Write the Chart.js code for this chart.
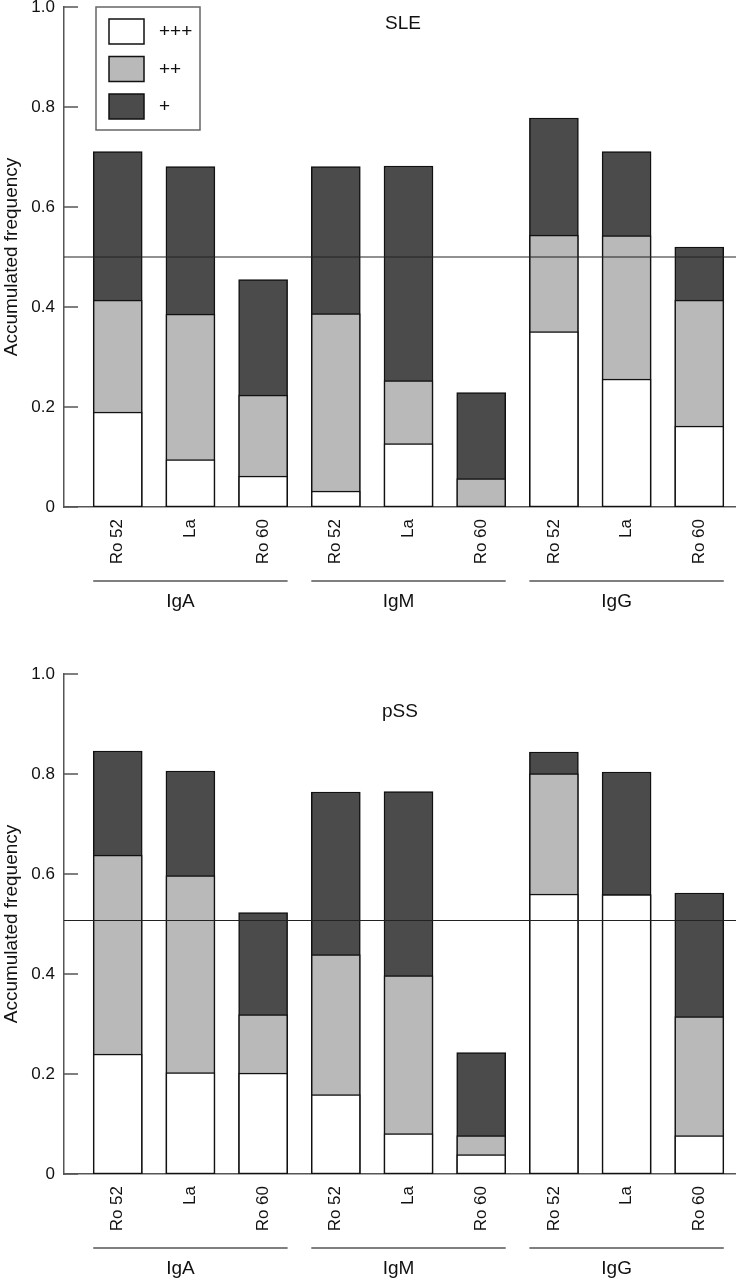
<!DOCTYPE html>
<html>
<head>
<meta charset="utf-8">
<script src="https://cdn.jsdelivr.net/npm/chart.js@4/dist/chart.umd.min.js"></script>
<style>
    body { margin: 0; background: #fff; }
    canvas { display: block; }
</style>
</head>
<body>
<canvas id="sle" width="736" height="640"></canvas>
<canvas id="pss" width="736" height="640"></canvas>
<script>
const categories = ['Ro 52', 'La', 'Ro 60', 'Ro 52', 'La', 'Ro 60', 'Ro 52', 'La', 'Ro 60'];
const isotypes = ['IgA', 'IgM', 'IgG'];
const levelLabels = ['+++', '++', '+'];

// accumulated frequencies
const sleStrong   = [0.19, 0.095, 0.062, 0.032, 0.127, 0.0, 0.351, 0.256, 0.162];
const sleModerate = [0.414, 0.386, 0.224, 0.387, 0.253, 0.057, 0.544, 0.543, 0.414];
const sleWeak     = [0.711, 0.681, 0.455, 0.681, 0.682, 0.229, 0.778, 0.711, 0.52];

const pssStrong   = [0.24, 0.203, 0.202, 0.159, 0.081, 0.039, 0.56, 0.559, 0.077];
const pssModerate = [0.638, 0.597, 0.319, 0.439, 0.397, 0.077, 0.801, 0.559, 0.315];
const pssWeak     = [0.846, 0.806, 0.523, 0.764, 0.765, 0.243, 0.844, 0.804, 0.562];

const sleRefLine = 0.5;
const pssRefLine = 0.507;

const FONT = '"Liberation Sans", Arial, sans-serif';
const fills = ['#ffffff', '#b9b9b9', '#4b4b4b'];

const overlay = {
    id: 'overlay',
    afterDatasetsDraw(chart, args, opts) {
        const ctx = chart.ctx;
        const xs = chart.scales.x;
        const ys = chart.scales.y;
        const area = chart.chartArea;
        ctx.save();

        // reference line
        let ly = ys.getPixelForValue(opts.refLine);
        ctx.strokeStyle = '#222';
        ctx.lineWidth = 1.2;
        ctx.beginPath();
        ctx.moveTo(area.left, ly);
        ctx.lineTo(area.right, ly);
        ctx.stroke();

        // inward ticks on the y axis
        ctx.strokeStyle = '#555';
        ctx.lineWidth = 1.5;
        ys.ticks.forEach(t => {
            let py = ys.getPixelForValue(t.value);
            ctx.beginPath();
            ctx.moveTo(area.left, py);
            ctx.lineTo(area.left + 14, py);
            ctx.stroke();
        });

        // panel title
        ctx.fillStyle = '#111';
        ctx.font = '19px ' + FONT;
        ctx.textAlign = 'center';
        ctx.textBaseline = 'middle';
        ctx.fillText(opts.title, opts.titleX, opts.titleY);

        // isotype groups under the category labels
        const half = 24.5;
        isotypes.forEach((name, g) => {
            let x0 = xs.getPixelForValue(g * 3) - half;
            let x1 = xs.getPixelForValue(g * 3 + 2) + half;
            let gy = area.bottom + 74;
            ctx.strokeStyle = '#555';
            ctx.lineWidth = 1.3;
            ctx.beginPath();
            ctx.moveTo(x0, gy);
            ctx.lineTo(x1, gy);
            ctx.stroke();
            ctx.fillText(name, xs.getPixelForValue(g * 3 + 1) - 10, gy + 21);
        });

        // legend box
        if (opts.legend) {
            let lx = area.left + 32;
            let ly0 = area.top;
            ctx.strokeStyle = '#666';
            ctx.lineWidth = 1.5;
            ctx.strokeRect(lx, ly0, 104, 123);
            ctx.textAlign = 'left';
            chart.data.datasets.forEach((ds, i) => {
                let sy = ly0 + 12 + i * 37.5;
                ctx.fillStyle = ds.backgroundColor;
                ctx.fillRect(lx + 13, sy, 35, 25);
                ctx.strokeStyle = '#111';
                ctx.lineWidth = 1.5;
                ctx.strokeRect(lx + 13, sy, 35, 25);
                ctx.fillStyle = '#111';
                ctx.fillText(ds.label, lx + 63, sy + 13);
            });
        }
        ctx.restore();
    }
};

function points(values) {
    return values.map((v, i) => ({ x: i, y: v }));
}

function makeChart(id, series, refLine, extra) {
    const ctx = document.getElementById(id).getContext('2d');
    return new Chart(ctx, {
        type: 'bar',
        data: {
            datasets: series.map((values, i) => ({
                label: levelLabels[i],
                data: points(values),
                backgroundColor: fills[i],
                borderColor: '#111',
                borderWidth: 1.5,
                borderSkipped: false,
                barThickness: 49,
                grouped: false
            }))
        },
        plugins: [overlay],
        options: {
            responsive: false,
            animation: false,
            layout: { padding: { top: extra.top, right: 0, left: 0, bottom: 0 } },
            plugins: {
                legend: { display: false },
                tooltip: { enabled: false },
                overlay: {
                    refLine: refLine,
                    title: extra.title,
                    titleX: extra.titleX,
                    titleY: extra.titleY,
                    legend: extra.legend
                }
            },
            scales: {
                x: {
                    type: 'linear',
                    offset: false,
                    min: -0.739,
                    max: 8.505,
                    grid: { display: false, drawTicks: false },
                    border: { display: true, color: '#555', width: 1.5 },
                    afterBuildTicks: scale => {
                        scale.ticks = categories.map((c, i) => ({ value: i }));
                    },
                    afterFit: scale => {
                        scale.height = extra.xHeight;
                        scale.paddingLeft = 0;
                        scale.paddingRight = 0;
                    },
                    ticks: {
                        autoSkip: false,
                        minRotation: 90,
                        maxRotation: 90,
                        padding: 12,
                        color: '#111',
                        font: { family: FONT, size: 17 },
                        callback: value => categories[value]
                    }
                },
                y: {
                    min: 0,
                    max: 1,
                    grid: { display: false, drawTicks: false },
                    border: { display: true, color: '#555', width: 1.5 },
                    afterFit: scale => {
                        scale.width = 64;
                        scale.paddingTop = 0;
                        scale.paddingBottom = 0;
                    },
                    ticks: {
                        stepSize: 0.2,
                        padding: 9,
                        color: '#111',
                        font: { family: FONT, size: 17 },
                        callback: v => v === 0 ? '0' : v.toFixed(1)
                    },
                    title: {
                        display: true,
                        text: 'Accumulated frequency',
                        color: '#111',
                        padding: 0,
                        font: { family: FONT, size: 19 }
                    }
                }
            }
        }
    });
}

window.onload = function() {
    makeChart('sle', [sleStrong, sleModerate, sleWeak], sleRefLine,
        { top: 7, xHeight: 133, title: 'SLE', titleX: 403, titleY: 24, legend: true });
    makeChart('pss', [pssStrong, pssModerate, pssWeak], pssRefLine,
        { top: 34, xHeight: 106, title: 'pSS', titleX: 400, titleY: 72, legend: false });
};
</script>
</body>
</html>
